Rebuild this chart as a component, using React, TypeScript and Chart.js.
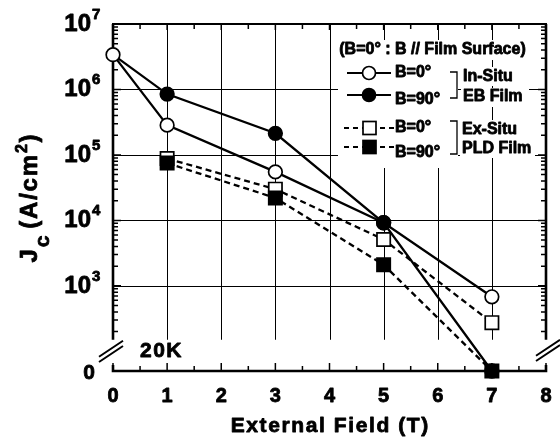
import React, { useEffect, useRef } from "react";
import { Chart, registerables } from "chart.js";

Chart.register(...registerables);

// ---- data ----
const fields = [0, 1, 3, 5, 7];
const inSituB0 = [3.4e6, 2.85e5, 5.5e4, 9.2e3, 680];
const inSituB90 = [3.4e6, 8.5e5, 2.14e5, 9.2e3, 0];
const exFields = [1, 3, 5, 7];
const exSituB0 = [8.8e4, 3.0e4, 5.1e3, 274];
const exSituB90 = [7.5e4, 2.2e4, 2.1e3, 0];

const xTicks = [0, 1, 2, 3, 4, 5, 6, 7, 8];
const yDecades = [3, 4, 5, 6, 7];
const yMax = 1e7;
const zeroLevel = 50; // where "0" sits on the broken log axis
const breakLevel = 150; // where the log part of the axis ends

const FONT = '"Liberation Sans", Arial, Helvetica, sans-serif';
const HEAVY = 0.8;

function txt(ctx: any, s: string, x: number, y: number) {
  ctx.save();
  ctx.lineWidth = HEAVY;
  ctx.lineJoin = "round";
  ctx.strokeStyle = ctx.fillStyle;
  ctx.strokeText(s, x, y);
  ctx.fillText(s, x, y);
  ctx.restore();
}

function spaced(ctx: any, text: string, x: number, y: number, spacing: number, align: "left" | "center" | "right") {
  const chars = Array.from(text);
  const widths = chars.map((c) => ctx.measureText(c).width);
  const total = widths.reduce((a, b) => a + b, 0) + spacing * (chars.length - 1);
  let cx = align === "left" ? x : align === "center" ? x - total / 2 : x - total;
  ctx.textAlign = "left";
  chars.forEach((c, i) => {
    txt(ctx, c, cx, y);
    cx += widths[i] + spacing;
  });
  return total;
}

const decor = {
  id: "decor",
  beforeDatasetsDraw(chart: any) {
    const ctx = chart.ctx;
    const xs = chart.scales.x;
    const ys = chart.scales.y;
    const L = xs.getPixelForValue(xTicks[0]);
    const R = xs.getPixelForValue(xTicks[xTicks.length - 1]);
    const T = ys.getPixelForValue(yMax);
    const Z = ys.getPixelForValue(zeroLevel);
    const B = ys.getPixelForValue(breakLevel);
    ctx.save();
    ctx.strokeStyle = "#000";
    // grid
    ctx.lineWidth = 1;
    ctx.beginPath();
    for (const v of xTicks) {
      if (v === xTicks[0] || v === xTicks[xTicks.length - 1]) continue;
      const px = Math.round(xs.getPixelForValue(v)) + 0.5;
      ctx.moveTo(px, T);
      ctx.lineTo(px, B);
    }
    for (const d of yDecades) {
      const v = Math.pow(10, d);
      if (v >= yMax) continue;
      const py = Math.round(ys.getPixelForValue(v)) + 0.5;
      ctx.moveTo(L, py);
      ctx.lineTo(R, py);
    }
    ctx.stroke();
    // ticks
    ctx.lineWidth = 1.5;
    ctx.beginPath();
    for (let i = 0; i < xTicks.length - 1; i++) {
      const mid = (xTicks[i] + xTicks[i + 1]) / 2;
      const pm = xs.getPixelForValue(mid);
      ctx.moveTo(pm, T);
      ctx.lineTo(pm, T + 5);
      ctx.moveTo(pm, Z);
      ctx.lineTo(pm, Z - 5);
    }
    for (const v of xTicks) {
      const p = xs.getPixelForValue(v);
      ctx.moveTo(p, T);
      ctx.lineTo(p, T + 6);
      ctx.moveTo(p, Z);
      ctx.lineTo(p, Z - 8);
    }
    for (let d = 2; d <= 6; d++) {
      for (let m = 1; m <= 9; m++) {
        const v = m * Math.pow(10, d);
        if (v <= breakLevel || v >= yMax) continue;
        const py = ys.getPixelForValue(v);
        const len = m === 1 ? 8 : 5;
        ctx.moveTo(L, py);
        ctx.lineTo(L + len, py);
        ctx.moveTo(R, py);
        ctx.lineTo(R - len, py);
      }
    }
    ctx.stroke();
    // frame
    ctx.lineWidth = 2;
    ctx.beginPath();
    ctx.moveTo(L - 1, T);
    ctx.lineTo(R + 1, T);
    ctx.stroke();
    ctx.lineWidth = 2.6;
    ctx.beginPath();
    ctx.moveTo(L, B);
    ctx.lineTo(L, T);
    ctx.moveTo(R, T);
    ctx.lineTo(R, B);
    ctx.moveTo(L, Z - 6);
    ctx.lineTo(L, Z);
    ctx.lineTo(R, Z);
    ctx.lineTo(R, Z - 6);
    ctx.stroke();
    // break marks
    ctx.lineWidth = 2;
    const brk = (cx: number, cy: number) => {
      ctx.beginPath();
      for (const off of [-2.6, 2.6]) {
        ctx.moveTo(cx - 12, cy + 8 + off);
        ctx.lineTo(cx + 12, cy - 8 + off);
      }
      ctx.stroke();
    };
    brk(L - 2, (B + Z) / 2 - 4);
    brk(R + 2, (B + Z) / 2 - 5);
    ctx.restore();
  },
  afterDatasetsDraw(chart: any) {
    const ctx = chart.ctx;
    const xs = chart.scales.x;
    const ys = chart.scales.y;
    const L = xs.getPixelForValue(xTicks[0]);
    const R = xs.getPixelForValue(xTicks[xTicks.length - 1]);
    const T = ys.getPixelForValue(yMax);
    const Z = ys.getPixelForValue(zeroLevel);
    ctx.save();
    ctx.fillStyle = "#000";
    ctx.strokeStyle = "#000";
    ctx.textBaseline = "alphabetic";

    // y tick labels
    for (const d of yDecades) {
      const py = ys.getPixelForValue(Math.pow(10, d));
      ctx.font = `bold 24px ${FONT}`;
      ctx.textAlign = "right";
      txt(ctx, "10", 91, py + 7);
      ctx.font = `bold 15px ${FONT}`;
      ctx.textAlign = "left";
      txt(ctx, String(d), 92, py - 5);
    }
    ctx.font = `bold 21px ${FONT}`;
    ctx.textAlign = "right";
    txt(ctx, "0", 95, Z + 8);

    // x tick labels
    ctx.font = `bold 20px ${FONT}`;
    ctx.textAlign = "center";
    for (const v of xTicks) {
      txt(ctx, String(v), xs.getPixelForValue(v), 402);
    }

    // x title
    ctx.font = `bold 21px ${FONT}`;
    spaced(ctx, "External Field (T)", (L + R) / 2, 432, 1.6, "center");

    // y title (rotated)
    ctx.save();
    ctx.translate(37, (T + Z) / 2);
    ctx.rotate(-Math.PI / 2);
    const parts = [
      { t: "J", f: `bold 24px ${FONT}`, dy: 0, gap: 0 },
      { t: "c", f: `bold 21px ${FONT}`, dy: 12, gap: 0 },
      { t: "(A/cm", f: `bold 24px ${FONT}`, dy: 0, gap: 5 },
      { t: "2", f: `bold 16px ${FONT}`, dy: -10, gap: 0 },
      { t: ")", f: `bold 24px ${FONT}`, dy: 0, gap: 0 },
    ];
    const sp = 1.8;
    let total = 0;
    const ws: number[] = [];
    for (const p of parts) {
      ctx.font = p.f;
      const chars = Array.from(p.t);
      const w = chars.reduce((a, c) => a + ctx.measureText(c).width, 0) + sp * chars.length + p.gap;
      ws.push(w);
      total += w;
    }
    let cx = -total / 2;
    parts.forEach((p, i) => {
      ctx.font = p.f;
      spaced(ctx, p.t, cx + p.gap, p.dy, sp, "left");
      cx += ws[i];
    });
    ctx.restore();

    // 20K
    ctx.font = `bold 21px ${FONT}`;
    spaced(ctx, "20K", 140, 357, 1.5, "left");

    // legend
    ctx.fillStyle = "#fff";
    ctx.fillRect(331, 40, 204, 20);
    ctx.fillRect(338, 60, 120, 108);
    ctx.fillRect(461, 67, 58, 19);
    ctx.fillRect(461, 88, 68, 19);
    ctx.fillRect(460, 120, 62, 19);
    ctx.fillRect(460, 139, 75, 19);
    ctx.fillStyle = "#000";
    ctx.font = `bold 16px ${FONT}`;
    ctx.textBaseline = "middle";
    ctx.textAlign = "center";
    txt(ctx, "(B=0\u00b0 : B // Film Surface)", 432.5, 50);

    const rowLine = (y: number, dashed: boolean) => {
      ctx.save();
      ctx.lineWidth = 2.2;
      if (dashed) ctx.setLineDash([5, 4]);
      ctx.beginPath();
      ctx.moveTo(dashed ? 344 : 347, y);
      ctx.lineTo(dashed ? 394 : 391, y);
      ctx.stroke();
      ctx.restore();
    };
    const circ = (y: number, fill: string) => {
      ctx.beginPath();
      ctx.arc(369, y, 6.5, 0, Math.PI * 2);
      ctx.fillStyle = fill;
      ctx.fill();
      ctx.lineWidth = 1.7;
      ctx.stroke();
    };
    const sq = (y: number, fill: string) => {
      ctx.fillStyle = fill;
      ctx.fillRect(363, y - 6.5, 13, 13);
      ctx.lineWidth = 1.7;
      ctx.strokeRect(363, y - 6.5, 13, 13);
    };
    rowLine(73, false);
    circ(73, "#fff");
    rowLine(95, false);
    circ(95, "#000");
    rowLine(128, true);
    sq(128, "#fff");
    rowLine(147, true);
    sq(147, "#000");

    ctx.fillStyle = "#000";
    ctx.textAlign = "left";
    txt(ctx, "B=0\u00b0", 395, 73);
    txt(ctx, "B=90\u00b0", 395, 100);
    txt(ctx, "B=0\u00b0", 395, 128);
    txt(ctx, "B=90\u00b0", 395, 153);
    txt(ctx, "In-Situ", 463, 77);
    txt(ctx, "EB Film", 463, 97);
    txt(ctx, "Ex-Situ", 462, 130);
    txt(ctx, "PLD Film", 462, 149);

    ctx.lineWidth = 1.3;
    ctx.beginPath();
    ctx.moveTo(450, 72);
    ctx.lineTo(457, 72);
    ctx.lineTo(457, 98);
    ctx.lineTo(450, 98);
    ctx.moveTo(450, 121);
    ctx.lineTo(457, 121);
    ctx.lineTo(457, 154);
    ctx.lineTo(450, 154);
    ctx.stroke();

    ctx.restore();
  },
};

const mapZero = (v: number) => (v === 0 ? zeroLevel : v);
const pts = (xv: number[], yv: number[]) => xv.map((x, i) => ({ x, y: mapZero(yv[i]) }));

export default function App() {
  const ref = useRef<HTMLCanvasElement | null>(null);
  useEffect(() => {
    if (!ref.current) return;
    const base = {
      showLine: true,
      borderColor: "#000",
      borderWidth: 2.3,
      pointBorderColor: "#000",
      pointBorderWidth: 1.7,
      clip: false as any,
    };
    const circleR = fields.map((f) => (f === 0 ? 0 : 6.8));
    const chart = new Chart(ref.current, {
      type: "scatter",
      data: {
        datasets: [
          {
            ...base,
            label: "zero field",
            data: [{ x: fields[0], y: inSituB0[0] }],
            showLine: false,
            pointStyle: "circle",
            pointRadius: 6.8,
            pointBackgroundColor: "#fff",
          },
          {
            ...base,
            label: "Ex-Situ B=90",
            data: pts(exFields, exSituB90),
            borderDash: [6, 4],
            pointStyle: "rect",
            pointRadius: 9.4,
            pointBackgroundColor: "#000",
          },
          {
            ...base,
            label: "In-Situ B=90",
            data: pts(fields, inSituB90),
            pointStyle: "circle",
            pointRadius: circleR,
            pointBackgroundColor: "#000",
          },
          {
            ...base,
            label: "Ex-Situ B=0",
            data: pts(exFields, exSituB0),
            borderDash: [6, 4],
            pointStyle: "rect",
            pointRadius: 9.4,
            pointBackgroundColor: "#fff",
          },
          {
            ...base,
            label: "In-Situ B=0",
            data: pts(fields, inSituB0),
            pointStyle: "circle",
            pointRadius: circleR,
            pointBackgroundColor: "#fff",
          },
        ] as any,
      },
      options: {
        animation: false,
        responsive: false,
        devicePixelRatio: 1,
        events: [],
        layout: { padding: { left: 113, right: 14, top: 24, bottom: 73 } },
        plugins: { legend: { display: false }, tooltip: { enabled: false } },
        scales: {
          x: { type: "linear", display: false, min: xTicks[0], max: xTicks[xTicks.length - 1] },
          y: { type: "logarithmic", display: false, min: zeroLevel, max: yMax },
        },
      },
      plugins: [decor],
    });
    return () => chart.destroy();
  }, []);
  return (
    <div style={{ position: "absolute", left: 0, top: 0, width: 560, height: 444, background: "#fff" }}>
      <canvas ref={ref} width={560} height={444} style={{ display: "block" }} />
    </div>
  );
}
